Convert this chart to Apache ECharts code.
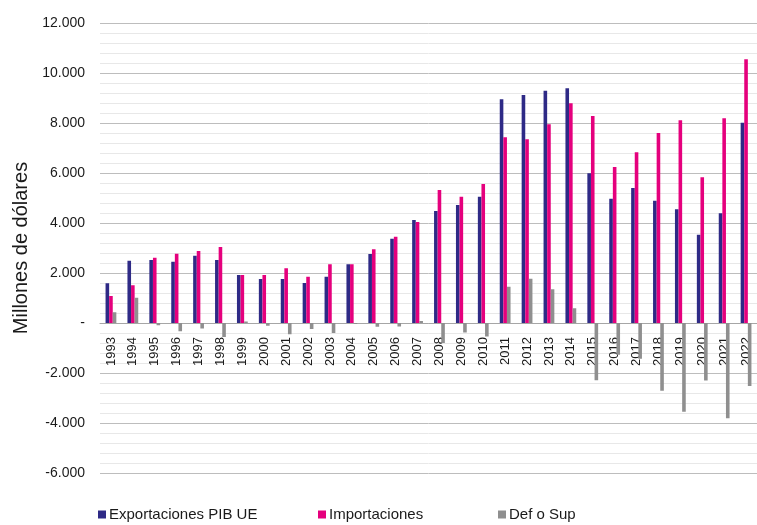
<!DOCTYPE html>
<html>
<head>
<meta charset="utf-8">
<script src="https://cdn.jsdelivr.net/npm/echarts@6/dist/echarts.min.js"></script>
<style>
  html, body { margin: 0; padding: 0; background: #fff; }
  #main { width: 757px; height: 525px; }
</style>
</head>
<body>
<div id="main"></div>
<script>
// datos (millones de dolares)
var years = ['1993', '1994', '1995', '1996', '1997', '1998', '1999', '2000', '2001', '2002',
    '2003', '2004', '2005', '2006', '2007', '2008', '2009', '2010', '2011', '2012',
    '2013', '2014', '2015', '2016', '2017', '2018', '2019', '2020', '2021', '2022'];
var exportaciones = [1590, 2490, 2520, 2450, 2690, 2520, 1920, 1760, 1760, 1600,
    1850, 2350, 2760, 3370, 4120, 4480, 4720, 5050, 8950, 9120,
    9290, 9390, 5990, 4970, 5400, 4890, 4550, 3530, 4390, 8010];
var importaciones = [1080, 1510, 2610, 2770, 2880, 3040, 1920, 1920, 2190, 1850,
    2350, 2350, 2950, 3450, 4040, 5320, 5050, 5560, 7430, 7350,
    7950, 8790, 8280, 6240, 6830, 7600, 8110, 5830, 8190, 10550];
var defOSup = [430, 1010, -90, -330, -220, -560, 60, -110, -450, -240,
    -400, -40, -150, -140, 80, -800, -380, -540, 1450, 1770,
    1350, 590, -2290, -1270, -1430, -2710, -3550, -2300, -3810, -2520];
var yTicks = { min: -6000, max: 12000, step: 2000 };

var nombres = ['Exportaciones PIB UE', 'Importaciones', 'Def o Sup'];
var colores = ['#2e2a86', '#e5007d', '#8f8f8f'];

var myChart = echarts.init(document.getElementById('main'), null, { renderer: 'canvas' });

// formato 12.000 y "-" para el cero
function fmtMiles(v) {
    if (v === 0) return '-';
    var s = Math.abs(v).toString().replace(/\B(?=(\d{3})+(?!\d))/g, '.');
    return (v < 0 ? '-' : '') + s;
}

function leyenda(i, left) {
    return {
        data: [nombres[i]],
        left: left,
        top: 502,
        icon: 'rect',
        itemWidth: 8,
        itemHeight: 8,
        itemGap: 0,
        textStyle: {
            fontFamily: '"Liberation Sans", sans-serif',
            fontSize: 15,
            color: '#1a1a1a',
            padding: [0, 0, 0, -2]
        }
    };
}

// el eje x va en el cero: desplazado hacia arriba desde el borde inferior
var alturaGrid = 450;
var offsetCero = -alturaGrid * (0 - yTicks.min) / (yTicks.max - yTicks.min);

var option = {
    animation: false,
    legend: [leyenda(0, 93), leyenda(1, 313), leyenda(2, 493)],
    grid: { left: 100, right: -3, top: 23, height: alturaGrid, containLabel: false },
    xAxis: {
        type: 'category',
        data: years,
        offset: offsetCero,
        axisLine: { onZero: false, lineStyle: { color: '#a6a6a6', width: 1 } },
        axisTick: { show: false },
        axisLabel: {
            interval: 0,
            rotate: 90,
            margin: 14,
            fontSize: 13,
            color: '#1a1a1a',
            fontFamily: '"Liberation Sans", sans-serif',
            padding: [8, 0, 0, 0]
        },
        splitLine: { show: false }
    },
    yAxis: {
        type: 'value',
        min: yTicks.min,
        max: yTicks.max,
        interval: yTicks.step,
        name: 'Millones de dólares',
        nameLocation: 'middle',
        nameGap: 66,
        nameTextStyle: {
            fontSize: 20,
            color: '#1a1a1a',
            fontFamily: '"Liberation Sans", sans-serif'
        },
        axisLine: { show: false },
        axisTick: { show: false },
        axisLabel: {
            margin: 15,
            fontSize: 14,
            color: '#1a1a1a',
            fontFamily: '"Liberation Sans", sans-serif',
            formatter: fmtMiles
        },
        splitLine: { lineStyle: { color: '#bdbdbd', width: 1 } },
        minorTick: { show: false, splitNumber: 5 },
        minorSplitLine: { show: true, lineStyle: { color: '#e8e8e8', width: 1 } }
    },
    series: [
        {
            name: nombres[0],
            type: 'bar',
            data: exportaciones,
            barWidth: 3.6,
            barGap: '0%',
            itemStyle: { color: colores[0] }
        },
        {
            name: nombres[1],
            type: 'bar',
            data: importaciones,
            barWidth: 3.6,
            barGap: '0%',
            itemStyle: { color: colores[1] }
        },
        {
            name: nombres[2],
            type: 'bar',
            data: defOSup,
            barWidth: 3.6,
            barGap: '0%',
            itemStyle: { color: colores[2] }
        }
    ]
};

myChart.setOption(option, true);
</script>
</body>
</html>
